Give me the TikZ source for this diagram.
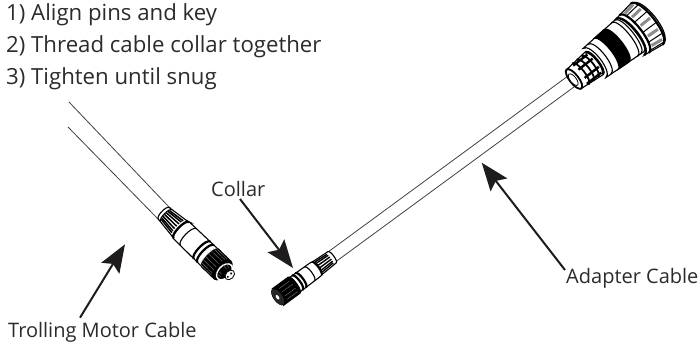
\documentclass[tikz,border=0pt]{standalone}
\usepackage{fontspec}
\setmainfont{Open Sans}
\usetikzlibrary{arrows.meta}
\definecolor{inktext}{HTML}{2B2A2C}
\definecolor{inkline}{HTML}{1E1C1D}
\tikzset{
  stepline/.style={font=\fontsize{22.2}{22}\selectfont,text=inktext,anchor=base west,inner sep=0pt},
  calloutlabel/.style={font=\fontsize{20}{20}\selectfont,text=inktext,anchor=base west,inner sep=0pt},
  callout/.style={draw=inkline,line width=2pt,-{Stealth[length=28pt,width=21pt,inset=5pt,fill=inkline]}},
  cableline/.style={draw=black!75,line width=.8pt},
  outline/.style={draw=black,line width=1.1pt,fill=white},
  ring/.style={draw=black,line width=1.1pt},
  thickring/.style={draw=black,line width=2.2pt},
  hatch/.style={draw=black,line width=#1},
  grey hatch/.style={draw=black!45,line width=#1},
}
% \cyl{u1}{hw1}{u2}{hw2}{bulge}: closed barrel between two cross sections
\newcommand{\cyl}[6][outline]{\path[#1] (#2,#3) -- (#4,#5) .. controls ({#4+1.33*(#6)},#5) and ({#4+1.33*(#6)},-#5) .. (#4,-#5) -- (#2,-#3) .. controls ({#2+1.33*(#6)},-#3) and ({#2+1.33*(#6)},#3) .. cycle;}
% \rng[style]{u}{hw}{bulge}
\newcommand{\rng}[4][ring]{\path[#1] (#2,#3) .. controls ({#2+1.33*(#4)},#3) and ({#2+1.33*(#4)},-#3) .. (#2,-#3);}
% \ridges[style]{u1}{u2}{hw1}{hw2}{bulge}{angle list}
\newcommand{\ridges}[7][ring]{\foreach \t in {#7}{\path[#1] ({#2+(#6)*cos(\t)},{(#4)*sin(\t)}) -- ({#3+(#6)*cos(\t)},{(#5)*sin(\t)});}}
\begin{document}
\begin{tikzpicture}[x=1pt,y=1pt]
\useasboundingbox (0,0) rectangle (700,-343);
% ---- trolling motor cable and plug
\draw[cableline] (69,-102) -- (169,-207);
\draw[cableline] (68,-127) -- (159,-220);
\begin{scope}[shift={(164,-213.5)},rotate=-44]
  \cyl{0}{8}{24}{11}{-3}
  \ridges[hatch=1.5pt]{3}{20}{7}{9.5}{-2}{-62,-42,-22,-2,18,38,58}
  \rng{3}{8}{-2.5}
  \cyl{24}{11.5}{66}{12}{-4}
  \rng[thickring]{24}{11.2}{-3.5}
  \rng{34}{11.5}{-4}
  \rng[thickring]{53}{12}{-4}
  \rng[thickring]{58}{12}{-4}
  \cyl[fill=black,draw=black]{64}{12.5}{82}{12.5}{-4}
  \path[fill=black] (82,0) ellipse [x radius=6,y radius=12.5];
  \ridges[grey hatch=.3pt]{62}{78}{12}{12}{-3.5}{-70,-50,-30,-10,10,30,50,70}
  \path[fill=black,draw=white,line width=1.4pt] (84,0) ellipse [x radius=6,y radius=9.5];
  \ridges[grey hatch=.3pt]{80}{86}{8}{7}{-3}{-60,-30,30,60}
  \path[fill=white,draw=black,line width=.8pt] (90,1.5) ellipse [x radius=4,y radius=5.5];
  \path[fill=black] (90,3.5) circle (1.3) (90,-1.2) circle (1.1);
\end{scope}
% ---- adapter cable
\draw[cableline] (328,-252) -- (570,-74.5);
\draw[cableline] (334,-263) -- (578,-84);
\begin{scope}[shift={(278,-297)},rotate=36.3]
  \cyl{47}{8}{67}{7}{2.2}
  \ridges[hatch=1.4pt]{50}{64}{7}{6}{1.5}{-60,-35,-10,15,40,65}
  \rng[thickring]{48}{8}{2.5}
  \cyl{18}{9}{47}{8.5}{2.8}
  \rng{39}{8.5}{2.8}
  \rng[thickring]{24}{9}{3}
  \rng[thickring]{28}{9}{3}
  \cyl[fill=black,draw=black,line width=1pt]{0}{10}{20}{10}{3}
  \ridges[grey hatch=.3pt]{4}{17}{9.5}{9.5}{2.5}{-50,-20,10,40}
  \path[fill=black!85,draw=black] (0,0) ellipse [x radius=4.5,y radius=9.5];
  \path[fill=white] (-.5,0) ellipse [x radius=1.4,y radius=2.6];
\end{scope}
% ---- large connector
\begin{scope}[shift={(574,-79)},rotate=38]
  \cyl{0}{12}{26}{14.5}{4.5}
  \foreach \u in {8,14,20,25}{\rng[hatch=1.8pt]{\u}{13.5}{4.5}}
  \ridges[hatch=2.4pt]{5}{23}{13.5}{13.5}{4.5}{-60,-25,20,55}
  \path[fill=white,draw=black,line width=1.8pt] (0,0) ellipse [x radius=4.5,y radius=12];
  \path[fill=white,draw=black,line width=.8pt] (-1,0) ellipse [x radius=3,y radius=7];
  \cyl{26}{18.5}{72}{21.5}{7}
  \cyl[fill=black]{39}{20}{54}{21}{7}
  \rng{32}{19}{7}
  \rng{64}{21.5}{7}
  \rng{68}{21.5}{7}
  \begin{scope}[yshift=-1.5pt]
  \cyl{70}{23}{91}{26}{9}
  \rng[thickring]{70}{23}{8}
  \rng[thickring]{75}{24}{8}
  \rng[thickring]{91}{26}{9}
  \ridges[hatch=1pt]{75}{91}{24}{26}{8.5}{-72,-40,-10,22,52}
  \ridges[grey hatch=3pt]{77}{89}{24}{26}{8.5}{-56,-25,6,37,66}
  \path[draw=black,line width=1.2pt] (91,26) .. controls (99,26) and (102,12) .. (102,0) .. controls (102,-12) and (99,-26) .. (91,-26);
  \end{scope}
\end{scope}
% ---- texts and callouts
\node[stepline] (s1) at (6,-20.7) {1) Align pins and key};
\node[stepline] (s2) at (6,-52.7) {2) Thread cable collar together};
\node[stepline] (s3) at (6,-84.3) {3) Tighten until snug};
\node[calloutlabel] (collar) at (211,-196) {Collar};
\node[calloutlabel] (adapter) at (566,-283) {Adapter Cable};
\node[calloutlabel] (motor) at (8,-337.5) {Trolling Motor Cable};
\coordinate (collarfrom) at (240,-199);
\coordinate (collarto) at (293,-268);
\coordinate (adapterfrom) at (565,-270);
\coordinate (adapterto) at (481.7,-162.7);
\coordinate (motorfrom) at (80,-317.7);
\coordinate (motorto) at (125,-244.3);
\draw[callout] (collarfrom) -- (collarto);
\draw[callout] (adapterfrom) -- (adapterto);
\draw[callout] (motorfrom) -- (motorto);
\end{tikzpicture}
\end{document}
